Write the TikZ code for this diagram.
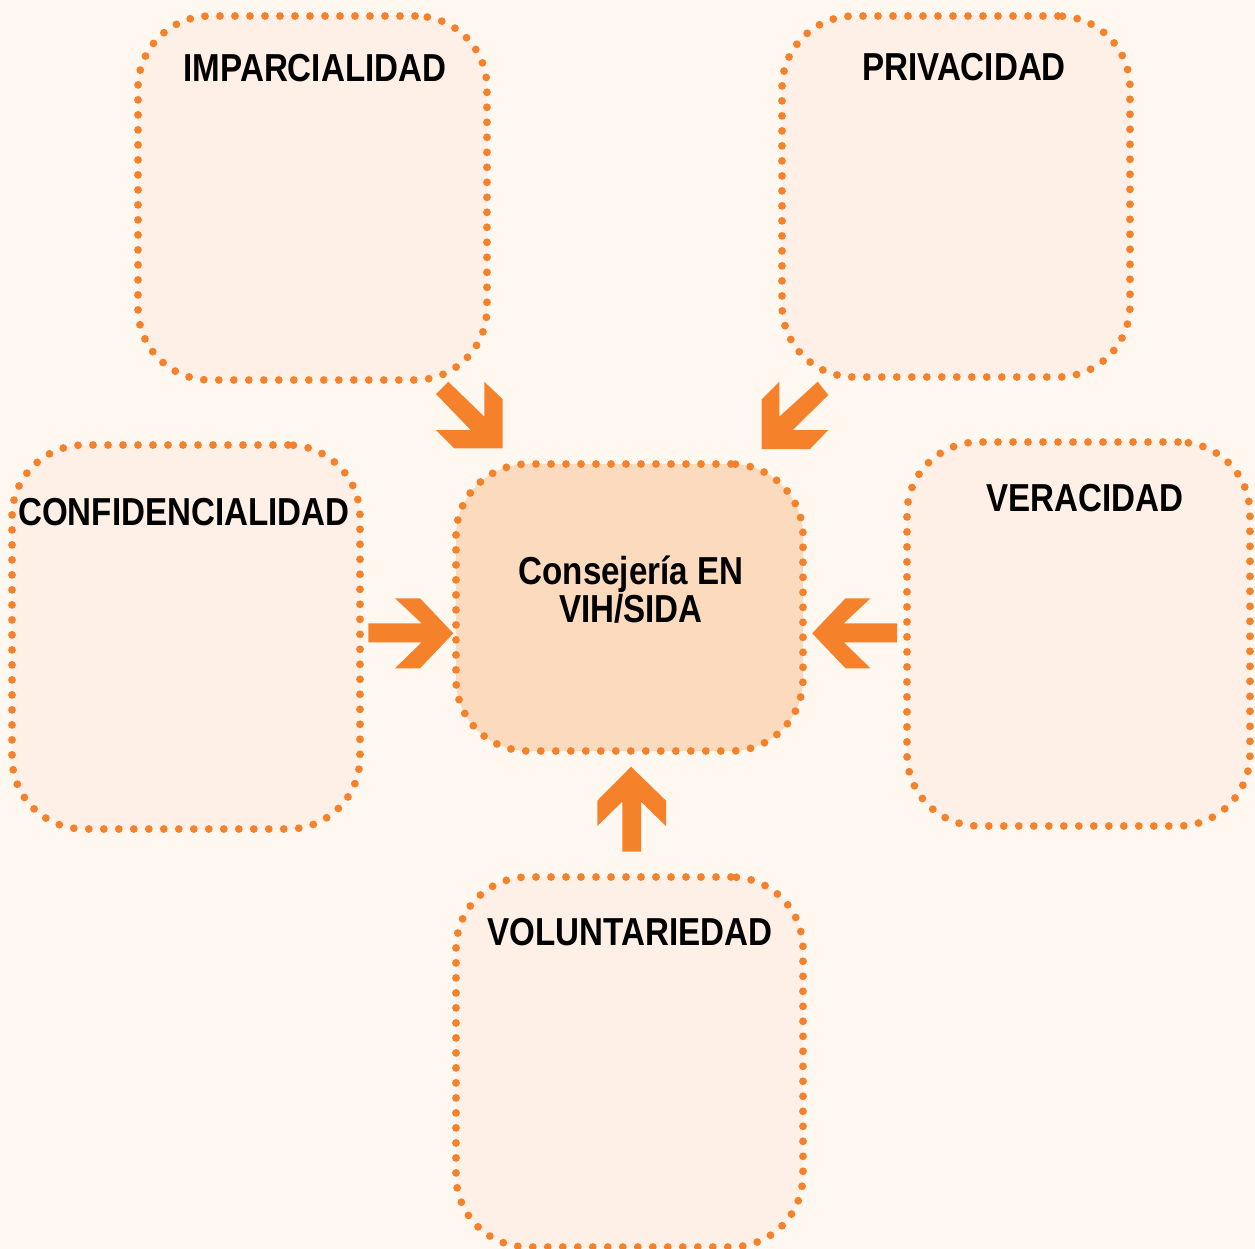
\documentclass[tikz,border=0pt]{standalone}
\usepackage{fontspec}
\setmainfont{Liberation Sans}[FakeStretch=0.85]
\definecolor{bgc}{RGB}{254,248,241}
\definecolor{boxfill}{RGB}{254,240,230}
\definecolor{centerfill}{RGB}{251,218,190}
\definecolor{orng}{RGB}{245,130,42}
\begin{document}
\begin{tikzpicture}[x=0.5pt,y=-0.5pt,
  dotbox/.style={draw=orng, fill=boxfill, rectangle, rounded corners=36pt,
    line width=3.9pt, line cap=round, dash pattern=on 0pt off 7.5pt, inner sep=0pt},
  centerbox/.style={dotbox, fill=centerfill},
  lbl/.style={font=\bfseries\fontsize{19.5}{22}\selectfont, text=black, inner sep=0pt},
  clbl/.style={font=\bfseries\fontsize{19.5}{20}\selectfont, text=black, align=center, inner sep=0pt},
  blockarrow/.style={fill=orng, draw=none}]
\fill[bgc] (0,0) rectangle (1255,1249);
\useasboundingbox (0,0) rectangle (1255,1249);

\node[dotbox, minimum width=174.5pt, minimum height=182pt] (imp) at (312.5,198) {};
\node[dotbox, minimum width=174pt, minimum height=180.5pt] (pri) at (956,196.5) {};
\node[dotbox, minimum width=174pt, minimum height=192pt] (con) at (186,637) {};
\node[dotbox, minimum width=171.5pt, minimum height=192pt] (ver) at (1078.5,634) {};
\node[dotbox, minimum width=173.5pt, minimum height=185pt] (vol) at (629.5,1062) {};
\node[centerbox, minimum width=173.5pt, minimum height=143.5pt] (cen) at (629.5,607.5) {};

\node[lbl] (timp) at (315,68) {IMPARCIALIDAD};
\node[lbl] (tpri) at (964,67) {PRIVACIDAD};
\node[lbl] (tcon) at (184,512) {CONFIDENCIALIDAD};
\node[lbl] (tver) at (1085,498) {VERACIDAD};
\node[lbl] (tvol) at (630,932) {VOLUNTARIEDAD};
\node[clbl] (tcen) at (631,590) {Consejería EN\\[-1pt]VIH/SIDA};

% top-left arrow (down-right)
\fill[blockarrow] (448.3,381.7) -- (484.3,416.7) -- (484.3,381.7) -- (502.7,399.3) -- (502.7,448.3)
  -- (454.3,448.3) -- (436,430) -- (470.7,430) -- (436,394) -- cycle;
% top-right arrow (down-left)
\fill[blockarrow] (817.7,381.7) -- (828.3,395) -- (792.7,430) -- (828.3,430) -- (810,449)
  -- (761.7,449) -- (761.7,399.3) -- (779.3,381.7) -- (779.3,416.7) -- cycle;
% left arrow (right)
\fill[blockarrow] (368.3,623.3) -- (421.7,623.3) -- (395,598.3) -- (420,598.3) -- (453.3,633.3)
  -- (420,668.3) -- (395,668.3) -- (421.7,642.3) -- (368.3,642.3) -- cycle;
% right arrow (left)
\fill[blockarrow] (897.2,623.3) -- (843.8,623.3) -- (870.5,598.3) -- (845.5,598.3) -- (812.2,633.3)
  -- (845.5,668.3) -- (870.5,668.3) -- (843.8,642.3) -- (897.2,642.3) -- cycle;
% bottom arrow (up)
\fill[blockarrow] (631,766.7) -- (666,800.7) -- (666,826) -- (641,801.7) -- (641,851.7)
  -- (622.3,851.7) -- (622.3,801.7) -- (597.3,826) -- (597.3,800.7) -- cycle;
\end{tikzpicture}
\end{document}
